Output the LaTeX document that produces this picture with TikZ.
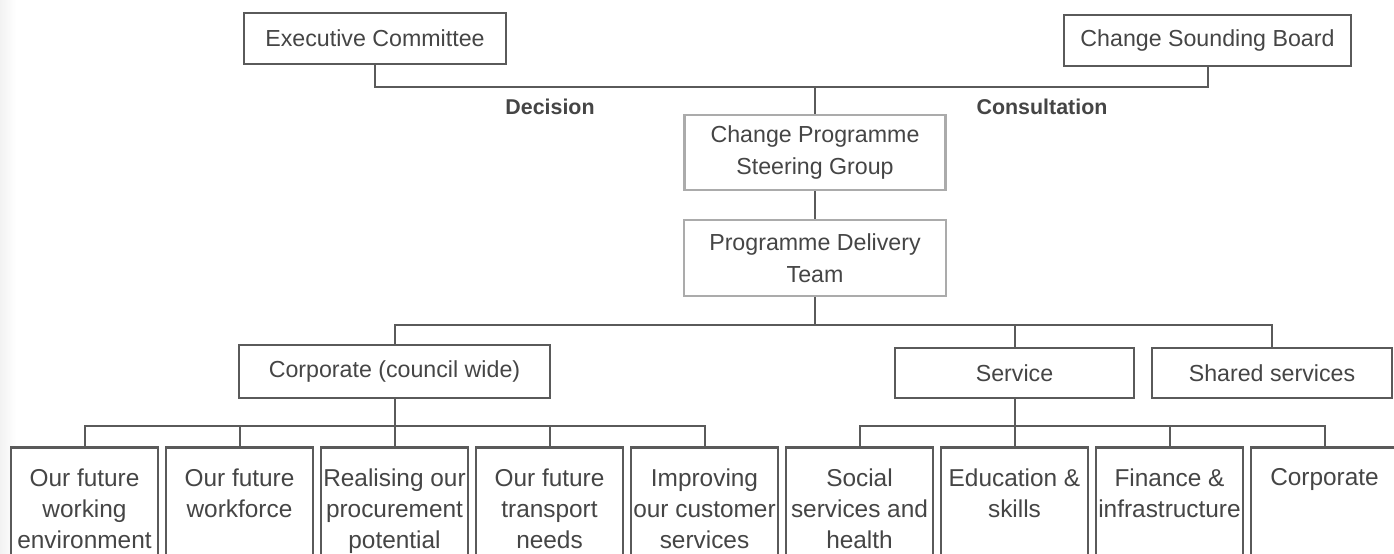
\documentclass[tikz,border=0pt]{standalone}
\usepackage{fontspec}
\setmainfont{Liberation Sans}
\definecolor{boxc}{HTML}{5A5A5A}
\definecolor{gboxc}{HTML}{ABABAB}
\definecolor{linec}{HTML}{5A5A5A}
\definecolor{txt}{HTML}{454545}
\begin{document}
\begin{tikzpicture}[x=0.5pt,y=-0.5pt,
  box/.style={draw=boxc, line width=1.3pt, fill=white, inner sep=0pt, text=txt,
    font=\fontsize{11.6}{15.8}\selectfont, align=center},
  gbox/.style={box, draw=gboxc},
  leaf/.style={draw=boxc, line width=1.3pt, fill=white, minimum width=73.5pt,
    minimum height=75pt, anchor=north, inner sep=0pt},
  leaftxt/.style={anchor=north, text=txt, font=\fontsize{12.2}{15.5}\selectfont,
    align=center, inner sep=0pt},
  conn/.style={draw=linec, line width=1pt},
  lbl/.style={text=txt, font=\bfseries\fontsize{10.7}{13}\selectfont, inner sep=0pt}]
\clip (0,0) rectangle (1394,553);
\fill[white] (0,0) rectangle (1394,553);
\shade[left color=black!5, right color=white] (0,0) rectangle (16,553);

% top row
\node[box, minimum width=131pt, minimum height=25.5pt] (exec) at (375,38.5) {Executive Committee};
\node[box, minimum width=143.5pt, minimum height=25.5pt] (sound) at (1207.5,40.5) {Change Sounding Board};
\coordinate (busT) at (815,87);
\draw[conn] (exec.south) |- (sound.south |- busT) -- (sound.south);

\node[lbl] (dec) at (550,107) {Decision};
\node[lbl] (cons) at (1042,107) {Consultation};

\node[gbox, minimum width=130.5pt, minimum height=37.5pt] (steer) at (815,152.5) {Change Programme\\Steering Group};
\node[gbox, minimum width=131pt, minimum height=38pt] (deliv) at (815,258) {Programme Delivery\\Team};
\draw[conn] (busT) -- (steer.north);
\draw[conn] (steer.south) -- (deliv.north);

% second level
\node[box, minimum width=155.5pt, minimum height=26.5pt] (corp) at (394.5,371.5) {Corporate (council wide)};
\node[box, minimum width=119.5pt, minimum height=25pt] (serv) at (1014.5,373) {Service};
\node[box, minimum width=120pt, minimum height=25pt] (shared) at (1272,373) {Shared services};
\coordinate (busM) at (815,325);
\draw[conn] (deliv.south) -- (busM);
\draw[conn] (corp.north) |- (shared.north |- busM) -- (shared.north);
\draw[conn] (serv.north |- busM) -- (serv.north);

% leaves
\foreach \i/\t in {1/{Our future\\working\\environment},
                   2/{Our future\\workforce},
                   3/{Realising our\\procurement\\potential},
                   4/{Our future\\transport\\needs},
                   5/{Improving\\our customer\\services},
                   6/{Social\\services and\\health},
                   7/{Education \&\\skills},
                   8/{Finance \&\\infrastructure},
                   9/{Corporate}}{
  \node[leaf] (b\i) at ({84.5+155*(\i-1)},446) {};
  \node[leaftxt] (t\i) at ([yshift=-11pt]b\i.north) {\t};
}
\coordinate (busL) at (394.5,426);
\draw[conn] (corp.south) -- (b3.north);
\draw[conn] (b1.north) |- (b5.north |- busL) -- (b5.north);
\draw[conn] (b2.north |- busL) -- (b2.north);
\draw[conn] (b4.north |- busL) -- (b4.north);
\draw[conn] (serv.south) -- (b7.north);
\draw[conn] (b6.north) |- (b9.north |- busL) -- (b9.north);
\draw[conn] (b8.north |- busL) -- (b8.north);
\end{tikzpicture}
\end{document}
